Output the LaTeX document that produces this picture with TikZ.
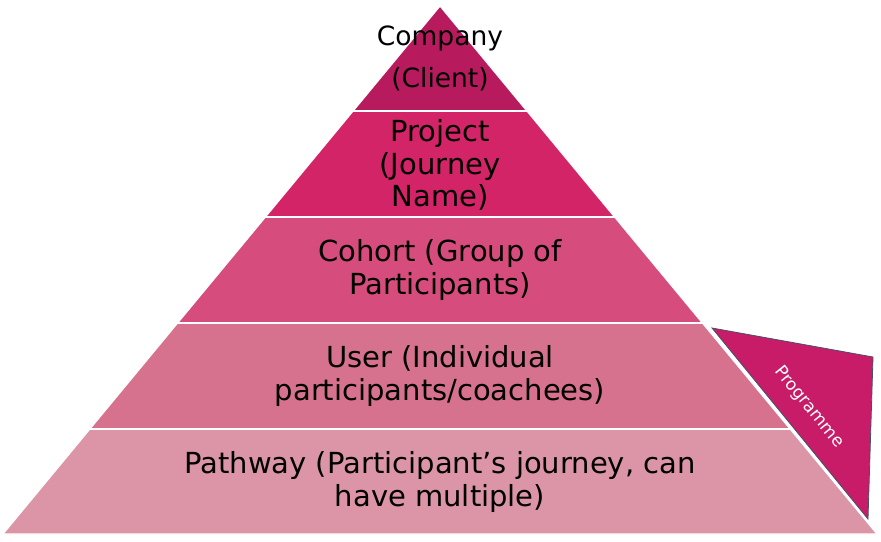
\documentclass[tikz,border=0pt]{standalone}
\usepackage{fontspec}
\setmainfont{DejaVu Sans}
\usetikzlibrary{positioning, calc}
\definecolor{tierone}{RGB}{184, 26, 94}
\definecolor{tiertwo}{RGB}{211, 36, 104}
\definecolor{tierthree}{RGB}{214, 76, 124}
\definecolor{tierfour}{RGB}{214, 114, 142}
\definecolor{tierfive}{RGB}{219, 149, 166}
\definecolor{progred}{RGB}{200, 28, 104}
\definecolor{slateedge}{RGB}{70, 80, 105}
\tikzset{
  band/.style={draw=white, line width=1.2pt},
  tiertext/.style={align=center, font=\fontsize{29}{32.5}\selectfont, inner sep=0pt},
  toptext/.style={align=center, font=\fontsize{26.5}{42}\selectfont, inner sep=0pt},
  progbox/.style={fill=progred, draw=slateedge, line width=0.8pt},
}

\begin{document}
\begin{tikzpicture}[x=1pt, y=-1pt]
  \useasboundingbox (0,0) rectangle (881,541);
  % pyramid bands, top to bottom
  \fill[tierone, band] (440,6) -- (526.9,111) -- (353.1,111) -- cycle;
  \fill[tiertwo, band] (353.1,111) -- (526.9,111) -- (614.6,217) -- (265.4,217) -- cycle;
  \fill[tierthree, band] (265.4,217) -- (614.6,217) -- (702.4,323) -- (177.6,323) -- cycle;
  \fill[tierfour, band] (177.6,323) -- (702.4,323) -- (790.1,429) -- (89.9,429) -- cycle;
  \fill[tierfive, band] (89.9,429) -- (790.1,429) -- (877,534) -- (3,534) -- cycle;
  \foreach \y in {111,217,323,429} \draw[white, line width=1.2pt] (0,\y) -- (881,\y);
  \node[toptext] (company) at (440,58) {Company\\(Client)};
  \node[tiertext] (project) at (440,165) {Project\\(Journey\\Name)};
  \node[tiertext] (cohort) at (440,270) {Cohort (Group of\\Participants)};
  \node[tiertext] (user) at (440,376) {User (Individual\\participants/coachees)};
  \node[tiertext] (pathway) at (440,482) {Pathway (Participant’s journey, can\\have multiple)};
  % programme flag
  \filldraw[progbox] (712,328) -- (873,357) -- (868,519) -- cycle;
  \node[white, font=\fontsize{17}{20}\selectfont, rotate=-51, inner sep=0pt] (programme) at (809,407) {Programme};
\end{tikzpicture}
\end{document}
